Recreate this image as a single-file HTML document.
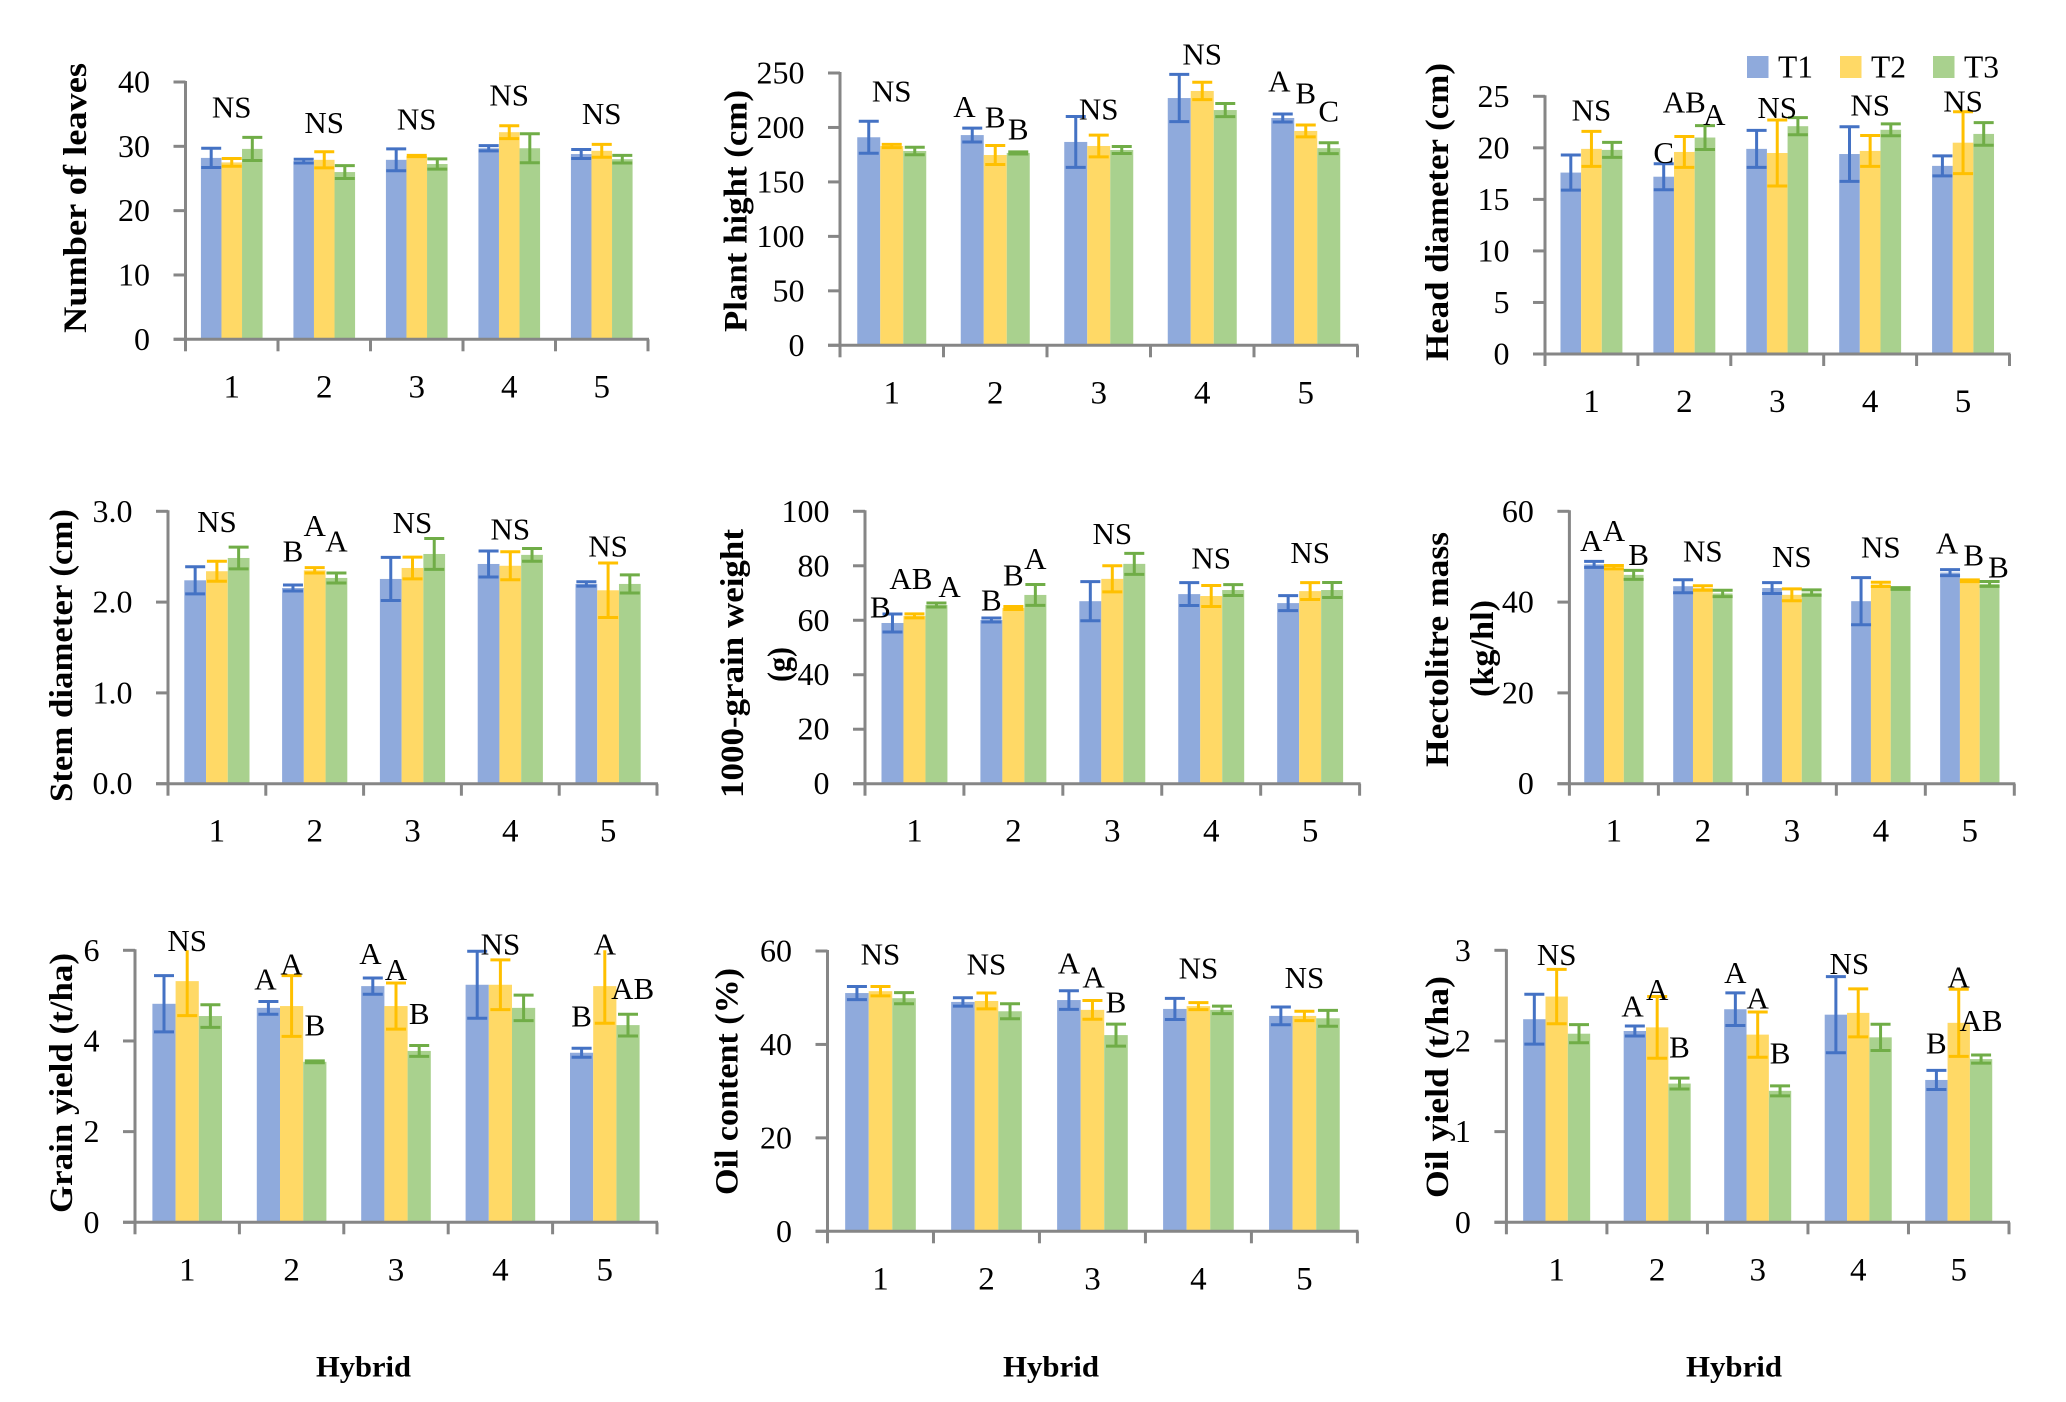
<!DOCTYPE html>
<html lang="en">
<head>
<meta charset="utf-8">
<title>Sunflower hybrid traits</title>
<style>
html,body{margin:0;padding:0;background:#fff;width:2066px;height:1402px;overflow:hidden}
svg{display:block}
text{font-family:"Liberation Serif",serif;fill:#000}
</style>
</head>
<body>
<svg id="figure" xmlns="http://www.w3.org/2000/svg" width="2066" height="1402" viewBox="0 0 2066 1402"></svg>
<script>
const categories = ['1','2','3','4','5'];
const seriesNames = ['T1','T2','T3'];

const leavesTicks = ['0','10','20','30','40'];
const leavesT1 = [28.2,27.7,27.9,29.7,28.8];
const leavesT2 = [27.5,27.9,28.5,32.2,29.3];
const leavesT3 = [29.6,26.0,27.25,29.7,28.0];
const leavesErrT1 = [1.5,0.3,1.7,0.4,0.7];
const leavesErrT2 = [0.6,1.25,0.1,1.0,1.0];
const leavesErrT3 = [1.8,1.0,0.8,2.25,0.6];
const leavesNotes = [['NS',0,0,36.06],['NS',1,0,33.6],['NS',2,0,34.2],['NS',3,0,37.9],['NS',4,0,35]];

const heightTicks = ['0','50','100','150','200','250'];
const heightT1 = [191,193,186.7,227,208.7];
const heightT2 = [183,174.7,183,233.5,196.8];
const heightT3 = [178.4,176.6,179.3,216,181];
const heightErrT1 = [14.7,6.4,23.4,21.7,3.7];
const heightErrT2 = [1.5,8.7,10,8,5.5];
const heightErrT3 = [3.4,1,3.2,6,5];
const heightNotes = [['NS',0,0,232.9],['A',1,-1.34,219],['B',1,0,209.3],['B',1,1,198.3],['NS',2,0,216.6],['NS',3,0,267],['A',4,-1.15,242],['B',4,0,231.3],['C',4,1,214.8]];

const headTicks = ['0','5','10','15','20','25'];
const headT1 = [17.6,17.2,19.9,19.4,18.25];
const headT2 = [19.9,19.6,19.5,19.7,20.5];
const headT3 = [19.8,21,22.1,21.75,21.35];
const headErrT1 = [1.7,1.26,1.8,2.65,0.97];
const headErrT2 = [1.7,1.5,3.2,1.5,3];
const headErrT3 = [0.73,1.16,0.83,0.58,1.1];
const headNotes = [['NS',0,0,23.6],['C',1,-1,19.5],['AB',1,0,24.4],['A',1,1.45,23.2],['NS',2,0,23.85],['NS',3,0,24.1],['NS',4,0,24.5]];

const stemTicks = ['0.0','1.0','2.0','3.0'];
const stemT1 = [2.24,2.155,2.255,2.42,2.2];
const stemT2 = [2.34,2.35,2.376,2.4,2.13];
const stemT3 = [2.486,2.266,2.53,2.52,2.2];
const stemErrT1 = [0.15,0.033,0.237,0.143,0.024];
const stemErrT2 = [0.11,0.03,0.12,0.154,0.3];
const stemErrT3 = [0.12,0.055,0.17,0.07,0.1];
const stemNotes = [['NS',0,0,2.88],['B',1,-1,2.556],['A',1,0,2.84],['A',1,1,2.67],['NS',2,0,2.87],['NS',3,0,2.80],['NS',4,0,2.615]];

const grainTicks = ['0','20','40','60','80','100'];
const grainT1 = [59,60.1,67,69.6,66.3];
const grainT2 = [61.6,64.5,75.2,68.9,70.7];
const grainT3 = [65.6,69.3,80.7,71.1,71.1];
const grainErrT1 = [3.3,0.73,7.2,4.2,2.75];
const grainErrT2 = [0.73,0.55,4.8,3.85,3.1];
const grainErrT3 = [0.73,3.85,3.85,2,2.75];
const grainNotes = [['B',0,-1.55,64.7],['AB',0,-0.16,75.2],['A',0,1.6,72.3],['B',1,-1,67.2],['B',1,0,76.4],['A',1,1,82.5],['NS',2,0,91.7],['NS',3,0,82.7],['NS',4,0,84.7]];

const hectoTicks = ['0','20','40','60'];
const hectoT1 = [48.3,43.5,43.1,40.2,46.5];
const hectoT2 = [47.7,43.1,41.6,43.9,44.7];
const hectoT3 = [46,41.9,42.1,43,44];
const hectoErrT1 = [0.66,1.43,1.2,5.2,0.66];
const hectoErrT2 = [0.37,0.5,1.3,0.47,0.2];
const hectoErrT3 = [1,0.7,0.6,0.2,0.55];
const hectoNotes = [['A',0,-1.15,53.5],['A',0,0,55.7],['B',0,1.25,50.4],['NS',1,0,51.2],['NS',2,0,49.9],['NS',3,0,52],['A',4,-1.15,52.9],['B',4,0.2,50.3],['B',4,1.45,47.6]];

const yieldTicks = ['0','2','4','6'];
const yieldT1 = [4.82,4.73,5.21,5.24,3.74];
const yieldT2 = [5.32,4.77,4.77,5.24,5.21];
const yieldT3 = [4.55,3.54,3.78,4.73,4.35];
const yieldErrT1 = [0.62,0.14,0.18,0.74,0.1];
const yieldErrT2 = [0.76,0.67,0.51,0.55,0.82];
const yieldErrT3 = [0.25,0.02,0.12,0.28,0.24];
const yieldNotes = [['NS',0,0,6.21],['A',1,-1.13,5.36],['A',1,0,5.69],['B',1,1,4.34],['A',2,-1.1,5.92],['A',2,0,5.57],['B',2,1,4.59],['NS',3,0,6.13],['B',4,-1,4.54],['A',4,0,6.13],['AB',4,1.2,5.15]];

const oilTicks = ['0','20','40','60'];
const oilT1 = [51,49.1,49.5,47.6,46.1];
const oilT2 = [51.4,49.3,47.4,48.2,46.1];
const oilT3 = [49.9,47.1,42,47.4,45.6];
const oilErrT1 = [1.4,0.9,2,2.25,1.9];
const oilErrT2 = [1,1.7,2,0.75,1];
const oilErrT3 = [1.2,1.6,2.35,0.8,1.7];
const oilNotes = [['NS',0,0,59.3],['NS',1,0,57.1],['A',2,-1,57.3],['A',2,0.05,54.3],['B',2,1,49],['NS',3,0,56.3],['NS',4,0,54.2]];

const oilYieldTicks = ['0','1','2','3'];
const oilYieldT1 = [2.24,2.11,2.35,2.29,1.57];
const oilYieldT2 = [2.49,2.15,2.07,2.31,2.2];
const oilYieldT3 = [2.08,1.53,1.45,2.04,1.8];
const oilYieldErrT1 = [0.275,0.055,0.18,0.42,0.105];
const oilYieldErrT2 = [0.3,0.34,0.25,0.265,0.37];
const oilYieldErrT3 = [0.1,0.06,0.055,0.145,0.045];
const oilYieldNotes = [['NS',0,0,2.95],['A',1,-1.1,2.38],['A',1,0,2.56],['B',1,1,1.93],['A',2,-1,2.75],['A',2,0,2.47],['B',2,1,1.86],['NS',3,-0.4,2.85],['B',4,-1,1.97],['A',4,0,2.7],['AB',4,1,2.22]];

const barColors = ['#8FAADC','#FFD966','#A9D18E'];
const errColors = ['#4472C4','#FFC000','#70AD47'];
const axisColor = '#868686';

const charts = [
  {id:'number-of-leaves',ticks:leavesTicks,vals:[leavesT1,leavesT2,leavesT3],errs:[leavesErrT1,leavesErrT2,leavesErrT3],notes:leavesNotes,l:185.5,r:648,t:82,b:339.3,titles:[['Number of leaves',75,63,333]]},
  {id:'plant-height',ticks:heightTicks,vals:[heightT1,heightT2,heightT3],errs:[heightErrT1,heightErrT2,heightErrT3],notes:heightNotes,l:840,r:1357.5,t:73,b:345.3,titles:[['Plant hight (cm)',735.5,90,332]]},
  {id:'head-diameter',ticks:headTicks,vals:[headT1,headT2,headT3],errs:[headErrT1,headErrT2,headErrT3],notes:headNotes,l:1545,r:2009.5,t:96.3,b:354,titles:[['Head diameter (cm)',1437,63,361]]},
  {id:'stem-diameter',ticks:stemTicks,vals:[stemT1,stemT2,stemT3],errs:[stemErrT1,stemErrT2,stemErrT3],notes:stemNotes,l:168,r:657,t:511.3,b:783.7,titles:[['Stem diameter (cm)',61,509,802]]},
  {id:'grain-weight',ticks:grainTicks,vals:[grainT1,grainT2,grainT3],errs:[grainErrT1,grainErrT2,grainErrT3],notes:grainNotes,l:865,r:1359.6,t:511.3,b:783.7,titles:[['1000-grain weight',732,529,798],['(g)',779,647,682]]},
  {id:'hectolitre-mass',ticks:hectoTicks,vals:[hectoT1,hectoT2,hectoT3],errs:[hectoErrT1,hectoErrT2,hectoErrT3],notes:hectoNotes,l:1569.4,r:2014.3,t:511.3,b:783.7,titles:[['Hectolitre mass',1437,532,767],['(kg/hl)',1482,600,697]]},
  {id:'grain-yield',ticks:yieldTicks,vals:[yieldT1,yieldT2,yieldT3],errs:[yieldErrT1,yieldErrT2,yieldErrT3],notes:yieldNotes,l:135,r:657,t:950.3,b:1222.3,titles:[['Grain yield (t/ha)',61,953,1213]]},
  {id:'oil-content',ticks:oilTicks,vals:[oilT1,oilT2,oilT3],errs:[oilErrT1,oilErrT2,oilErrT3],notes:oilNotes,l:827.5,r:1357.4,t:951,b:1231.3,titles:[['Oil content (%)',726.5,968,1195]]},
  {id:'oil-yield',ticks:oilYieldTicks,vals:[oilYieldT1,oilYieldT2,oilYieldT3],errs:[oilYieldErrT1,oilYieldErrT2,oilYieldErrT3],notes:oilYieldNotes,l:1506.4,r:2009,t:950.3,b:1222.3,titles:[['Oil yield (t/ha)',1437,976,1198]]}
];

const hybridLabels = [[363.5,316,411],[1051,1003,1099],[1734,1686,1782]];

const NS = 'http://www.w3.org/2000/svg';
const root = document.getElementById('figure');

function make(parent, tag, attrs, txt){
  const n = document.createElementNS(NS, tag);
  for (const k in attrs) n.setAttribute(k, attrs[k]);
  if (txt !== undefined) n.textContent = txt;
  parent.appendChild(n);
  return n;
}

charts.forEach(function(c){
  const maxV = parseFloat(c.ticks[c.ticks.length-1]);
  const yScale = function(v){ return c.b - (v/maxV)*(c.b-c.t); };
  const band = (c.r-c.l)/categories.length;
  const barW = band/4.5;
  const groupCx = function(i){ return c.l + band*(i+0.5); };
  const barX = function(i,s){ return groupCx(i) + (s-1.5)*barW; };

  const g = make(root,'g',{});
  
  

  c.vals.forEach(function(vals,s){
    vals.forEach(function(v,i){
      const bar = make(g,'rect',{x:barX(i,s),y:yScale(v),width:barW,height:c.b-yScale(v),fill:barColors[s]});
      
      
    });
  });

  c.vals.forEach(function(vals,s){
    vals.forEach(function(v,i){
      const e = c.errs[s][i];
      const cx = barX(i,s)+barW/2;
      const hi = v+e, lo = v-e;
      const clipped = hi > maxV;
      const yHi = yScale(Math.min(hi,maxV));
      const yLo = yScale(lo);
      let d = 'M'+cx+' '+yHi+'V'+yLo+'M'+(cx-10)+' '+yLo+'H'+(cx+10);
      if (!clipped) d += 'M'+(cx-10)+' '+yHi+'H'+(cx+10);
      const eb = make(g,'path',{d:d,fill:'none',stroke:errColors[s],'stroke-width':3});
      
      
    });
  });

  const yAxis = make(g,'line',{x1:c.l,x2:c.l,y1:c.t-1,y2:c.b,stroke:axisColor,'stroke-width':3});
  
  
  const xAxis = make(g,'line',{x1:c.l-12,x2:c.r+1,y1:c.b,y2:c.b,stroke:axisColor,'stroke-width':3});
  
  

  c.ticks.forEach(function(t){
    const y = yScale(parseFloat(t));
    const tm = make(g,'line',{x1:c.l-12,x2:c.l,y1:y,y2:y,stroke:axisColor,'stroke-width':3});
    
    
    const tl = make(g,'text',{x:c.l-35.5,y:y+10.5,'text-anchor':'end','font-size':32},t);
    
    
  });

  for (let i=0;i<=categories.length;i++){
    const x = c.l + band*i;
    const tm = make(g,'line',{x1:x,x2:x,y1:c.b,y2:c.b+12,stroke:axisColor,'stroke-width':3});
    
    
  }
  categories.forEach(function(cat,i){
    const tl = make(g,'text',{x:groupCx(i),y:c.b+58,'text-anchor':'middle','font-size':33},cat);
    
    
  });

  c.notes.forEach(function(n){
    const lab = make(g,'text',{x:groupCx(n[1])+n[2]*barW,y:yScale(n[3])+10,'text-anchor':'middle','font-size':31},n[0]);
    
    
  });

  c.titles.forEach(function(t){
    const cy = (t[2]+t[3])/2;
    const ti = make(g,'text',{x:t[1],y:cy,'text-anchor':'middle','font-size':33,'font-weight':'bold',transform:'rotate(-90 '+t[1]+' '+cy+')',dy:11,textLength:t[3]-t[2],lengthAdjust:'spacingAndGlyphs'},t[0]);
    
    
  });
});

hybridLabels.forEach(function(h){
  const t = make(root,'text',{x:h[0],y:1376.5,'text-anchor':'middle','font-size':30,'font-weight':'bold',textLength:h[2]-h[1],lengthAdjust:'spacingAndGlyphs'},'Hybrid');
  
  
});

const legendSwatchX = [1747,1840,1933];
const legendG = make(root,'g',{});


seriesNames.forEach(function(n,s){
  const sw = make(legendG,'rect',{x:legendSwatchX[s],y:56,width:21.5,height:22,fill:barColors[s]});
  
  
  const tx = make(legendG,'text',{x:legendSwatchX[s]+31,y:77.5,'font-size':32,textLength:35,lengthAdjust:'spacingAndGlyphs'},n);
  
  
});
</script>
</body>
</html>
